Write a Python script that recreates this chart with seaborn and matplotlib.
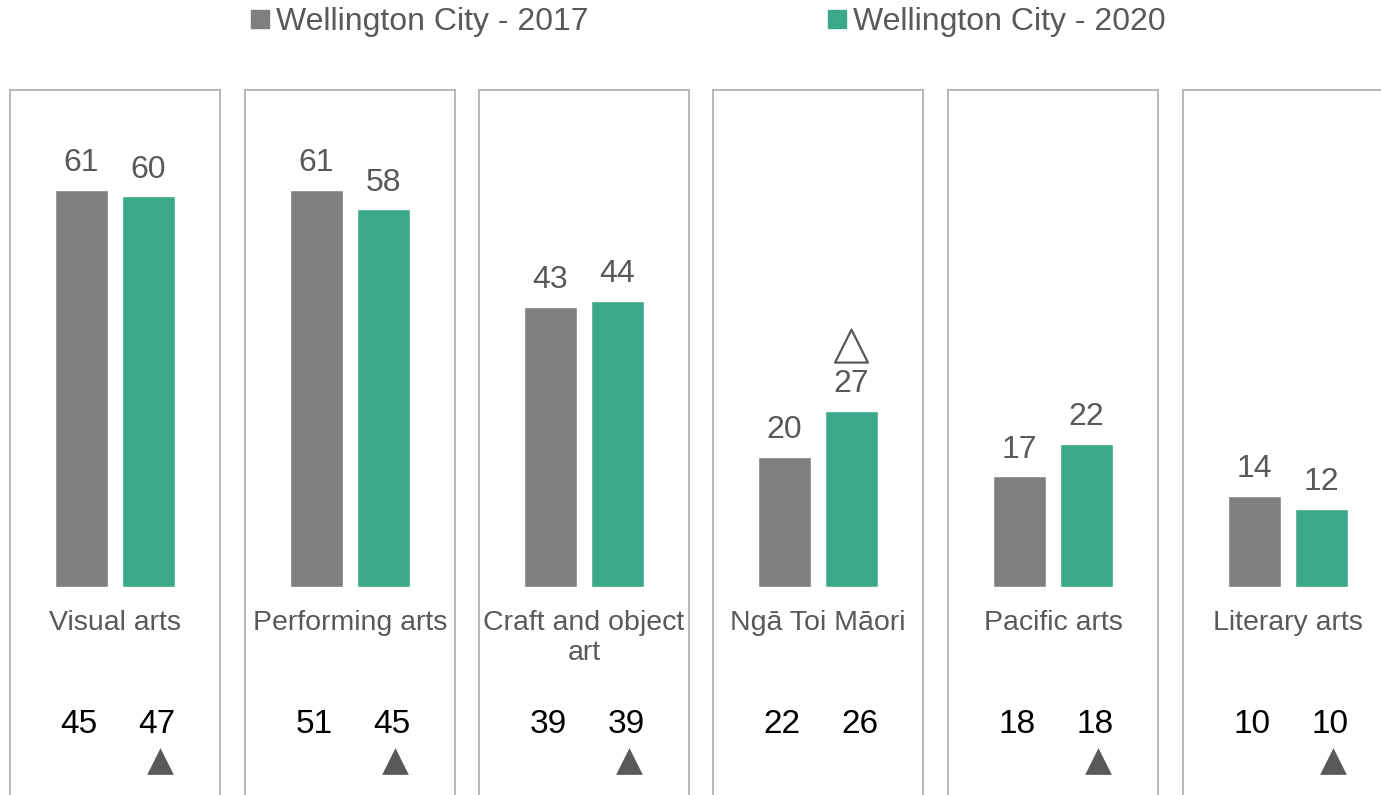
import textwrap

import pandas as pd
import matplotlib.pyplot as plt
from matplotlib.lines import Line2D
import seaborn as sns

# chart data
categories = ["Visual arts", "Performing arts", "Craft and object art",
              "Ngā Toi Māori", "Pacific arts", "Literary arts"]
years = ["Wellington City - 2017", "Wellington City - 2020"]
city_2017 = [61, 61, 43, 20, 17, 14]
city_2020 = [60, 58, 44, 27, 22, 12]
nz_2017 = [45, 51, 39, 22, 18, 10]
nz_2020 = [47, 45, 39, 26, 18, 10]
nz_up = [True, True, True, False, True, True]
city_up = [False, False, False, True, False, False]

GREY = "#7f7f7f"
TEAL = "#3ba88a"
TEXT = "#595959"
BORDER = "#b3b3b3"

sns.set_style("white")
plt.rcParams["font.family"] = ["Liberation Sans", "DejaVu Sans"]

df = pd.DataFrame({
    "category": categories * 2,
    "year": [years[0]] * len(categories) + [years[1]] * len(categories),
    "value": city_2017 + city_2020,
})

W, H = 1381, 795
fig = plt.figure(figsize=(W / 100, H / 100), dpi=100)

# panel geometry in pixels
panel_left = [10, 245, 479, 713, 948, 1183]
panel_w = 210
top_px, bottom_px, base_px = 90, 805, 587
px_per_unit = 6.51
ymax = (base_px - top_px) / px_per_unit
ymin = -(bottom_px - base_px) / px_per_unit
half = panel_w / 167.5 / 2

for i, cat in enumerate(categories):
    ax = fig.add_axes([panel_left[i] / W, (H - bottom_px) / H,
                       panel_w / W, (bottom_px - top_px) / H])
    sub = df[df["category"] == cat]
    sns.barplot(data=sub, x="category", y="value", hue="year", hue_order=years,
                palette=[GREY, TEAL], saturation=1, width=0.8, gap=0.2,
                errorbar=None, legend=False, ax=ax)
    for cont in ax.containers:
        ax.bar_label(cont, padding=8.5, fontsize=23, color=TEXT)

    ax.set_xlim(-half, half)
    ax.set_ylim(ymin, ymax)
    ax.set_xticks([])
    ax.set_yticks([])
    ax.set_xlabel("")
    ax.set_ylabel("")
    for side in ["left", "right", "top"]:
        ax.spines[side].set_color(BORDER)
        ax.spines[side].set_linewidth(1.3)
    ax.spines["bottom"].set_visible(False)

    ax.text(0, -3.5, textwrap.fill(cat, 16), ha="center", va="top",
            fontsize=20.5, color=TEXT, linespacing=1.2)

    # national comparison numbers
    ax.text(-0.215, -21.1, str(nz_2017[i]), ha="center", va="center",
            fontsize=24, color="black")
    ax.text(0.25, -21.1, str(nz_2020[i]), ha="center", va="center",
            fontsize=24, color="black")
    if nz_up[i]:
        ax.scatter([0.27], [-26.7], marker="^", s=370, color=TEXT,
                   linewidths=0, clip_on=False)
    if city_up[i]:
        ax.scatter([0.2], [city_2020[i] + 10], marker="^", s=560,
                   facecolors="none", edgecolors=TEXT, linewidths=1.6)

handles = [Line2D([], [], marker="s", linestyle="", color=c, markersize=12.5)
           for c in [GREY, TEAL]]
fig.legend(handles, years, loc="center", bbox_to_anchor=(708 / W, 1 - 22 / H),
           ncol=2, frameon=False, fontsize=23, labelcolor=TEXT,
           handlelength=0.6, handletextpad=0.2, columnspacing=7.5,
           borderpad=0, borderaxespad=0)

fig.savefig("out.png", dpi=100)
